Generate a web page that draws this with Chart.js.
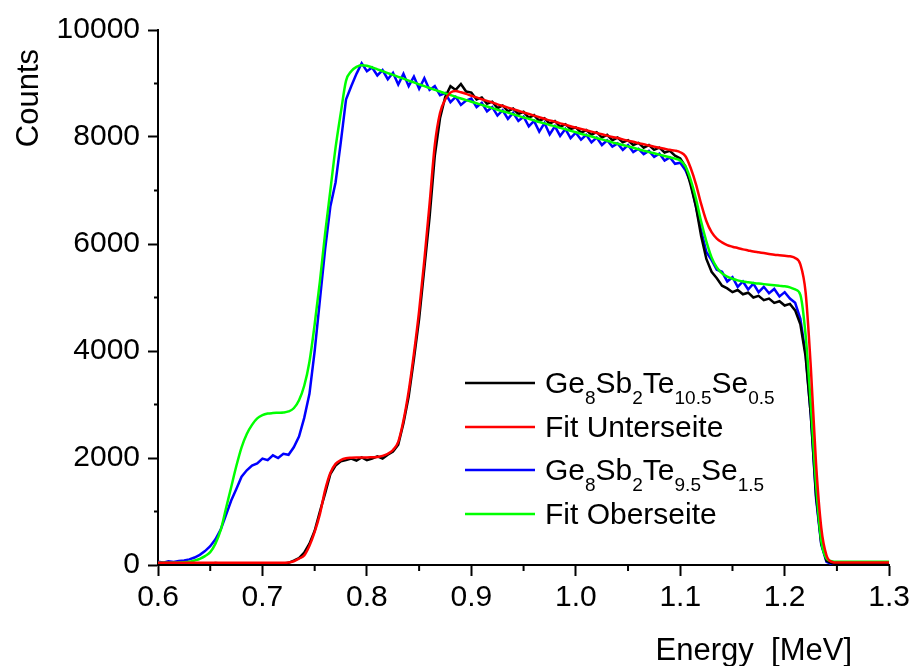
<!DOCTYPE html>
<html>
<head>
<meta charset="utf-8">
<title>RBS spectra</title>
<script src="https://cdn.jsdelivr.net/npm/chart.js@4"></script>
<style>
  html, body { margin: 0; padding: 0; background: #fff; }
  #wrap { width: 914px; height: 666px; position: relative; }
</style>
</head>
<body>
<div id="wrap"><canvas id="spectrum"></canvas></div>
<script>
// energy channels [MeV]
const energy = [
  0.600,0.605,0.610,0.615,0.620,0.625,0.630,0.635,0.640,0.645,
  0.650,0.655,0.660,0.665,0.670,0.675,0.680,0.685,0.690,0.695,
  0.700,0.705,0.710,0.715,0.720,0.725,0.730,0.735,0.740,0.745,
  0.750,0.755,0.760,0.765,0.770,0.775,0.780,0.785,0.790,0.795,
  0.800,0.805,0.810,0.815,0.820,0.825,0.830,0.835,0.840,0.845,
  0.850,0.855,0.860,0.865,0.870,0.875,0.880,0.885,0.890,0.895,
  0.900,0.905,0.910,0.915,0.920,0.925,0.930,0.935,0.940,0.945,
  0.950,0.955,0.960,0.965,0.970,0.975,0.980,0.985,0.990,0.995,
  1.000,1.005,1.010,1.015,1.020,1.025,1.030,1.035,1.040,1.045,
  1.050,1.055,1.060,1.065,1.070,1.075,1.080,1.085,1.090,1.095,
  1.100,1.105,1.110,1.115,1.120,1.125,1.130,1.135,1.140,1.145,
  1.150,1.155,1.160,1.165,1.170,1.175,1.180,1.185,1.190,1.195,
  1.200,1.205,1.210,1.215,1.220,1.225,1.230,1.235,1.240,1.245,
  1.250,1.255,1.260,1.265,1.270,1.275,1.280,1.285,1.290,1.295,
  1.300
];

// Ge8Sb2Te10.5Se0.5 measured
const countsSe05 = [
  30,25,35,30,20,30,35,25,30,30,
  25,35,30,25,30,35,30,25,30,35,
  30,25,30,35,30,40,80,130,230,400,
  640,1000,1340,1700,1860,1940,1960,1990,1950,2010,
  1960,1990,2030,1990,2060,2120,2250,2650,3150,3850,
  4600,5550,6500,7650,8350,8750,8950,8880,8990,8850,
  8830,8700,8740,8620,8660,8540,8590,8480,8530,8430,
  8470,8360,8410,8300,8350,8250,8300,8190,8240,8150,
  8180,8080,8130,8040,8090,7990,8040,7940,7990,7900,
  7940,7850,7890,7800,7850,7760,7800,7710,7740,7650,
  7600,7450,7100,6700,6150,5720,5480,5360,5220,5170,
  5100,5140,5060,5090,5000,5030,4950,4980,4900,4930,
  4850,4880,4760,4500,3900,2800,1300,400,80,30,
  20,25,20,15,20,25,20,15,20,20,
  15
];

// Fit Unterseite
const fitUnter = [
  40,40,40,40,40,40,40,40,40,40,
  40,40,40,40,40,40,40,40,40,40,
  40,40,40,40,40,45,70,120,180,360,
  620,950,1400,1720,1890,1960,1995,2005,2010,2010,
  2010,2015,2020,2040,2080,2150,2300,2700,3250,3950,
  4750,5700,6750,7850,8450,8700,8830,8860,8835,8805,
  8770,8740,8705,8675,8645,8610,8580,8550,8520,8490,
  8460,8430,8400,8370,8340,8310,8285,8255,8230,8200,
  8175,8150,8125,8100,8075,8050,8025,8000,7980,7955,
  7930,7910,7885,7865,7840,7820,7800,7780,7760,7745,
  7715,7640,7420,7120,6750,6430,6220,6100,6030,5980,
  5950,5925,5900,5880,5860,5845,5830,5815,5800,5790,
  5780,5770,5740,5620,5100,3700,1900,700,180,60,
  45,45,45,45,45,45,45,45,45,45,
  45
];

// Ge8Sb2Te9.5Se1.5 measured
const countsSe15 = [
  60,45,70,55,75,85,105,140,190,260,
  350,480,660,930,1200,1420,1650,1770,1860,1900,
  1990,1960,2050,2000,2080,2060,2200,2400,2750,3200,
  4000,4950,5900,6700,7150,7900,8700,8950,9180,9380,
  9230,9300,9150,9250,9080,9200,8980,9180,8950,9130,
  8900,9100,8880,8950,8780,8820,8650,8750,8600,8680,
  8720,8560,8640,8480,8560,8400,8500,8340,8450,8300,
  8380,8200,8300,8100,8260,8050,8200,8020,8150,7980,
  8080,7950,8040,7900,7990,7850,7940,7820,7880,7760,
  7850,7720,7780,7680,7740,7630,7690,7560,7620,7500,
  7520,7380,7150,6700,6250,5850,5700,5520,5480,5300,
  5380,5200,5300,5150,5260,5100,5200,5080,5160,5020,
  5100,4980,4900,4600,3950,2800,1250,380,60,15,
  10,5,10,5,10,5,10,5,10,5,
  10
];

// Fit Oberseite
const fitOber = [
  40,40,40,40,45,50,60,85,115,165,
  240,400,650,1050,1450,1850,2200,2450,2620,2740,
  2800,2830,2840,2845,2850,2870,2930,3080,3350,3800,
  4500,5300,6200,7000,7800,8450,9050,9230,9310,9340,
  9330,9300,9265,9230,9195,9160,9125,9090,9055,9020,
  8985,8950,8915,8880,8850,8815,8785,8750,8720,8690,
  8660,8630,8600,8570,8540,8510,8480,8455,8425,8395,
  8365,8340,8310,8280,8255,8225,8200,8170,8145,8115,
  8090,8060,8035,8010,7980,7955,7930,7900,7875,7850,
  7825,7800,7770,7745,7720,7695,7670,7645,7620,7595,
  7560,7450,7200,6850,6420,6050,5750,5560,5450,5390,
  5350,5320,5300,5285,5270,5260,5250,5240,5230,5220,
  5210,5190,5150,5050,4300,3000,1500,450,120,70,
  60,60,60,60,60,60,60,60,60,60,
  60
];

const seriesLabels = ['Ge_{8}Sb_{2}Te_{10.5}Se_{0.5}', 'Fit Unterseite', 'Ge_{8}Sb_{2}Te_{9.5}Se_{1.5}', 'Fit Oberseite'];
const xTitle = 'Energy  [MeV]';
const yTitle = 'Counts';

const FONT = '"Liberation Sans", Arial, Helvetica, sans-serif';
const pts = arr => energy.map((e, i) => ({ x: e, y: arr[i] }));

// minor ticks halfway between the major ones
const minorTicks = {
  id: 'minorTicks',
  afterDraw(chart) {
    const { ctx, scales: { x, y } } = chart;
    ctx.save();
    ctx.strokeStyle = '#000';
    ctx.lineWidth = 2;
    ctx.beginPath();
    for (let i = 0; i < x.ticks.length - 1; i++) {
      const px = x.getPixelForValue((x.ticks[i].value + x.ticks[i + 1].value) / 2);
      ctx.moveTo(px, x.top);
      ctx.lineTo(px, x.top + 6);
    }
    for (let i = 0; i < y.ticks.length - 1; i++) {
      const py = y.getPixelForValue((y.ticks[i].value + y.ticks[i + 1].value) / 2);
      ctx.moveTo(y.right - 4, py);
      ctx.lineTo(y.right, py);
    }
    ctx.stroke();
    ctx.restore();
  }
};

// axis titles sit off-centre in the original
const axisTitles = {
  id: 'axisTitles',
  afterDraw(chart) {
    const ctx = chart.ctx;
    ctx.save();
    ctx.fillStyle = '#000';
    ctx.font = '31px ' + FONT;
    ctx.textAlign = 'right';
    ctx.textBaseline = 'alphabetic';
    ctx.fillText(xTitle, 852, 660);
    ctx.translate(38, 49);
    ctx.rotate(-Math.PI / 2);
    ctx.fillText(yTitle, 0, 0);
    ctx.restore();
  }
};

// legend with subscripts, _{..} marks a subscript
const richLegend = {
  id: 'richLegend',
  afterDraw(chart) {
    const ctx = chart.ctx;
    const rows = [383, 427, 470, 514];
    ctx.save();
    chart.data.datasets.forEach((ds, i) => {
      const yy = rows[i];
      ctx.strokeStyle = ds.borderColor;
      ctx.lineWidth = 2.5;
      ctx.beginPath();
      ctx.moveTo(465, yy);
      ctx.lineTo(535, yy);
      ctx.stroke();
      ctx.fillStyle = '#000';
      ctx.textAlign = 'left';
      ctx.textBaseline = 'alphabetic';
      let xx = 545;
      ds.label.split(/_\{([^}]*)\}/).forEach((part, k) => {
        if (!part) return;
        if (k % 2) {
          ctx.font = '19px ' + FONT;
          ctx.fillText(part, xx, yy + 21);
        } else {
          ctx.font = '30px ' + FONT;
          ctx.fillText(part, xx, yy + 10);
        }
        xx += ctx.measureText(part).width;
      });
    });
    ctx.restore();
  }
};

new Chart(document.getElementById('spectrum'), {
  type: 'line',
  data: {
    datasets: [
      { label: seriesLabels[0], data: pts(countsSe05), borderColor: '#000000', order: 2 },
      { label: seriesLabels[1], data: pts(fitUnter), borderColor: '#ff0000', order: 0, cubicInterpolationMode: 'monotone' },
      { label: seriesLabels[2], data: pts(countsSe15), borderColor: '#0000ff', order: 3 },
      { label: seriesLabels[3], data: pts(fitOber), borderColor: '#00ff00', order: 1, cubicInterpolationMode: 'monotone' }
    ]
  },
  options: {
    responsive: true,
    maintainAspectRatio: false,
    animation: false,
    layout: { padding: { top: 30, right: 22, left: 0, bottom: 0 } },
    elements: {
      point: { radius: 0 },
      line: { borderWidth: 2.5, tension: 0, fill: false }
    },
    plugins: {
      legend: { display: false },
      tooltip: { enabled: false }
    },
    scales: {
      x: {
        type: 'linear',
        min: 0.6,
        max: 1.3,
        afterFit: s => { s.height = 101; },
        ticks: {
          stepSize: 0.1,
          padding: 4,
          color: '#000',
          font: { family: FONT, size: 30 },
          maxRotation: 0,
          callback: v => v.toFixed(1)
        },
        grid: { drawOnChartArea: false, tickLength: 11, tickColor: '#000', tickWidth: 2 },
        border: { display: true, color: '#000', width: 2 }
      },
      y: {
        type: 'linear',
        min: 0,
        max: 10000,
        afterFit: s => { s.width = 158; },
        ticks: {
          stepSize: 2000,
          padding: 8,
          color: '#000',
          font: { family: FONT, size: 30 },
          callback: v => String(v)
        },
        grid: { drawOnChartArea: false, tickLength: 10, tickColor: '#000', tickWidth: 2 },
        border: { display: true, color: '#000', width: 2 }
      }
    }
  },
  plugins: [minorTicks, axisTitles, richLegend]
});
</script>
</body>
</html>
